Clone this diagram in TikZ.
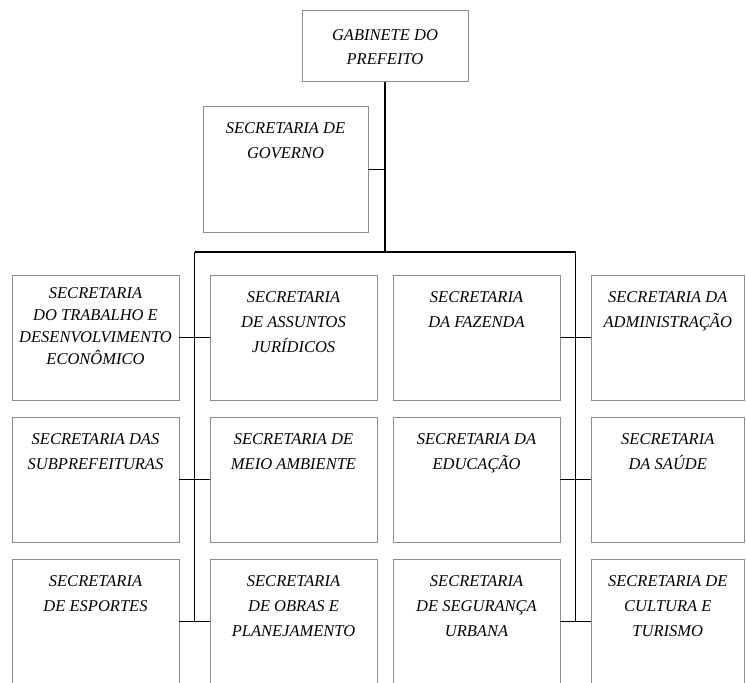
\documentclass[tikz,border=0pt]{standalone}
\usepackage{fontspec}
\setmainfont{Liberation Serif}
\usetikzlibrary{positioning}
\def\dx{31pt}
\def\dy{17pt}
\tikzstyle{sec}=[draw=black!45,line width=1pt,minimum width=167pt,minimum height=125pt,inner sep=0pt,outer sep=0pt]
\tikzstyle{txt}=[anchor=north,yshift=-14pt,align=center,inner sep=2pt,font=\itshape\fontsize{16.5}{25}\selectfont]
\tikzstyle{tight}=[yshift=4pt,font=\itshape\fontsize{16.5}{22}\selectfont]
\tikzstyle{conn}=[draw=black,line width=1.6pt]
\newcommand{\newSec}[4]{\node[sec,#3,label={[txt,#4]north:{#2}}](#1){};}
\newcommand{\newLink}[2]{\path[conn] (#1) -- (#2);}
\begin{document}
\begin{tikzpicture}[x=1pt,y=-1pt]
  \path[use as bounding box,clip] (0,0) rectangle (746,682);
  \newSec{gab}{GABINETE DO\\PREFEITO}{at={(385,46.5)},minimum width=166pt,minimum height=71pt}{yshift=-2pt,font=\itshape\fontsize{16.5}{24}\selectfont}
  \newSec{gov}{SECRETARIA DE\\GOVERNO}{below=25pt of gab,xshift=-99.5pt,minimum width=165pt}{yshift=1pt}
  % first row
  \newSec{s11}{SECRETARIA\\DO TRABALHO E\\DESENVOLVIMENTO\\ECONÔMICO}{at={(95.5,337.5)}}{tight}
  \newSec{s12}{SECRETARIA\\DE ASSUNTOS\\JURÍDICOS}{right=\dx of s11}{}
  \newSec{s13}{SECRETARIA\\DA FAZENDA}{right=16pt of s12}{}
  \newSec{s14}{SECRETARIA DA\\ADMINISTRAÇÃO}{right=\dx of s13,minimum width=153.5pt}{}
  % second row
  \newSec{s21}{SECRETARIA DAS\\SUBPREFEITURAS}{below=\dy of s11}{}
  \newSec{s22}{SECRETARIA DE\\MEIO AMBIENTE}{below=\dy of s12}{}
  \newSec{s23}{SECRETARIA DA\\EDUCAÇÃO}{below=\dy of s13}{}
  \newSec{s24}{SECRETARIA\\DA SAÚDE}{below=\dy of s14,minimum width=153.5pt}{}
  % third row
  \newSec{s31}{SECRETARIA\\DE ESPORTES}{below=\dy of s21}{}
  \newSec{s32}{SECRETARIA\\DE OBRAS E\\PLANEJAMENTO}{below=\dy of s22}{}
  \newSec{s33}{SECRETARIA\\DE SEGURANÇA\\URBANA}{below=\dy of s23}{}
  \newSec{s34}{SECRETARIA DE\\CULTURA E\\TURISMO}{below=\dy of s24,minimum width=153.5pt}{}
  % junctions
  \path (s11.east) -- coordinate (j1) (s12.west);
  \path (s31.east) -- coordinate (j3) (s32.west);
  \path (s13.east) -- coordinate (k1) (s14.west);
  \path (s33.east) -- coordinate (k3) (s34.west);
  \coordinate (hub) at (385,252);
  \newLink{gab.south}{hub}
  \newLink{gov.east}{gov.east -| hub}
  \newLink{hub -| j1}{hub -| k1}
  \newLink{hub -| j1}{j3}
  \newLink{hub -| k1}{k3}
  \newLink{s11.east}{s12.west}
  \newLink{s13.east}{s14.west}
  \newLink{s21.east}{s22.west}
  \newLink{s23.east}{s24.west}
  \newLink{s31.east}{s32.west}
  \newLink{s33.east}{s34.west}
\end{tikzpicture}
\end{document}
